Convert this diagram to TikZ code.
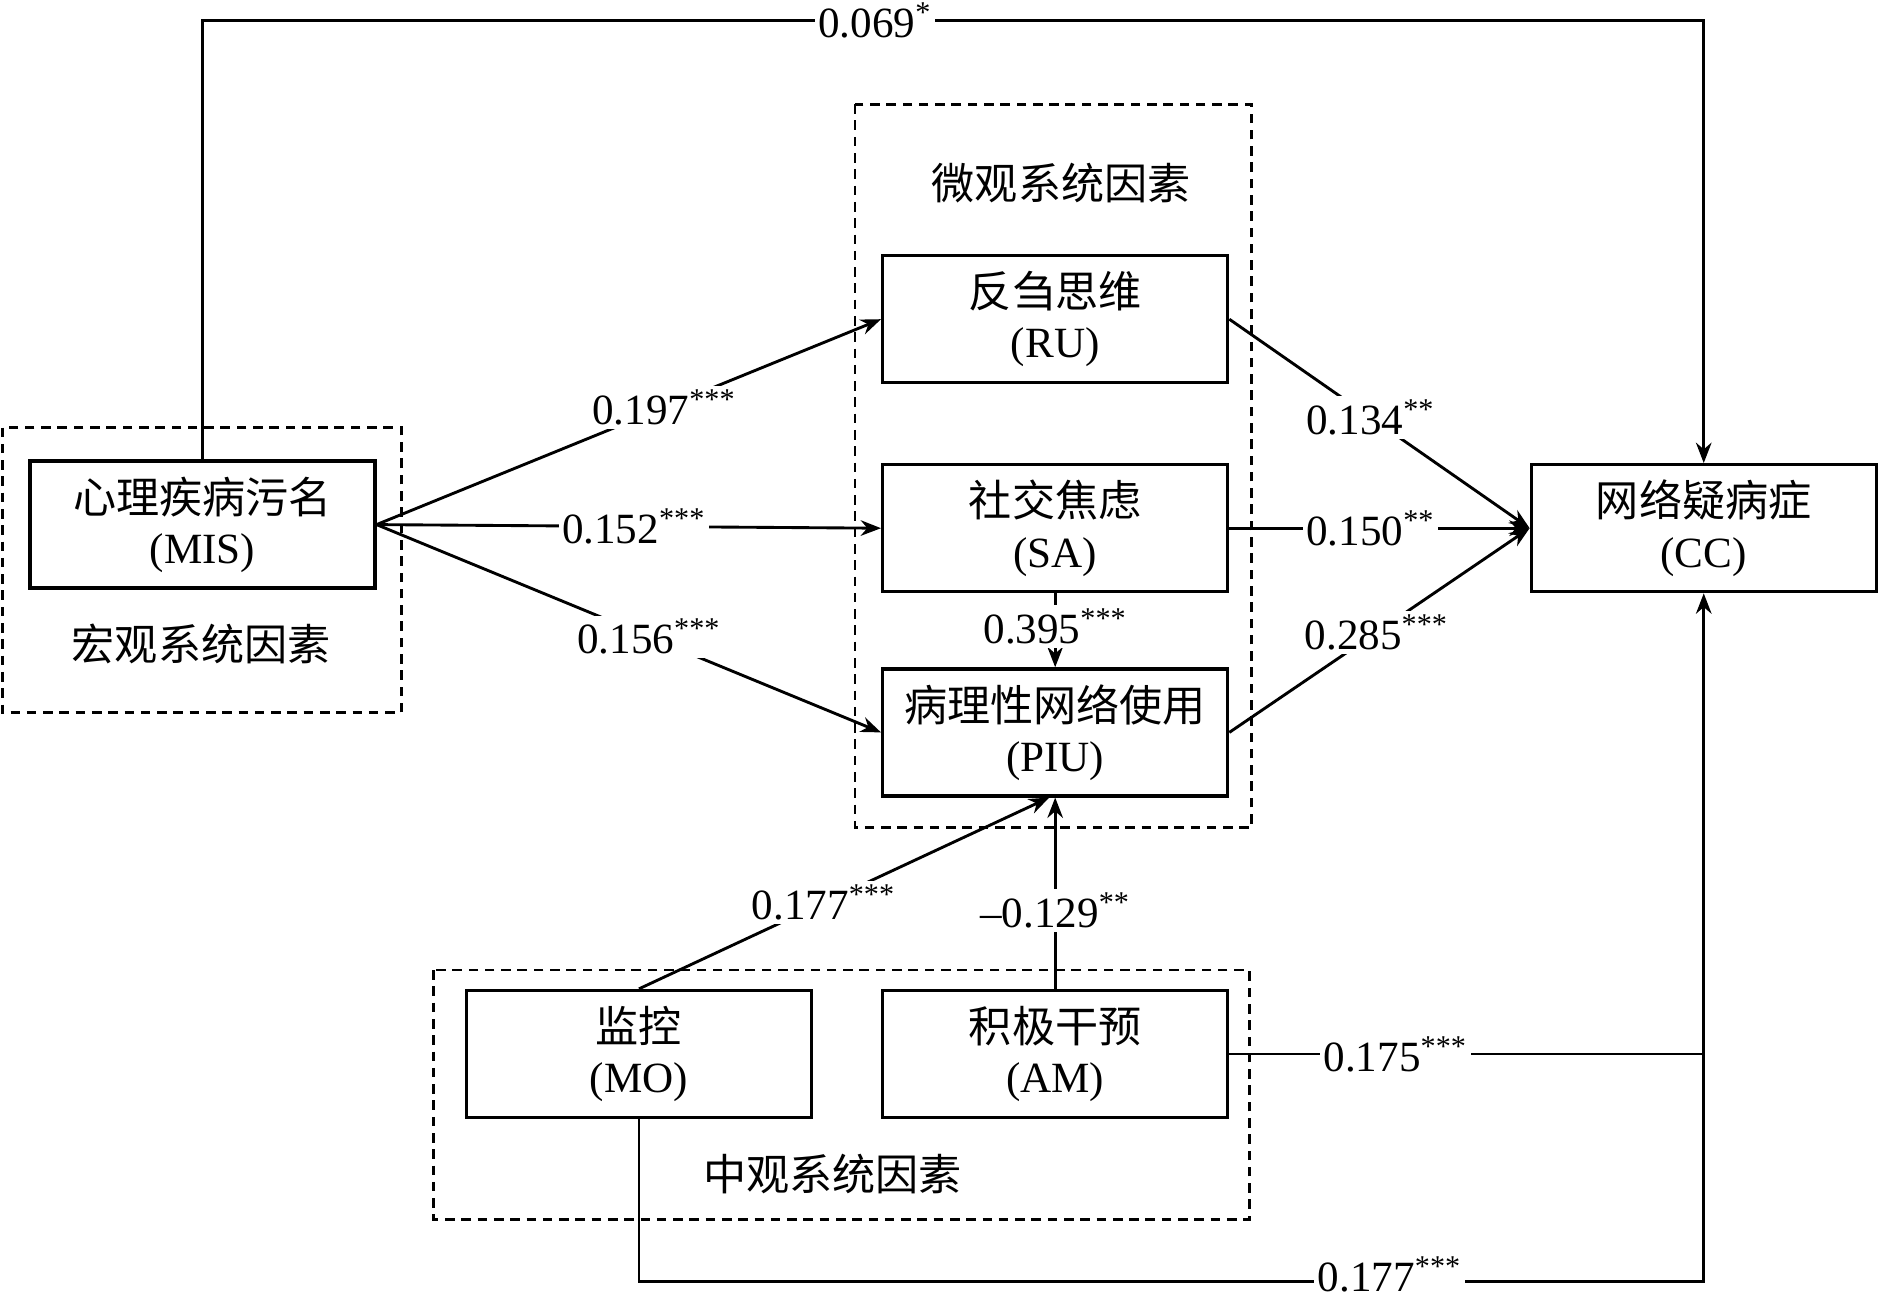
\documentclass[tikz,border=0pt]{standalone}
\usepackage{fontspec}
\setmainfont{Liberation Serif}
\newfontfamily\cjk{Noto Sans CJK SC}
\usetikzlibrary{arrows.meta}
\begin{document}
\begin{tikzpicture}[x=0.5pt,y=-0.5pt,
 font=\fontsize{18}{21}\selectfont,
 box/.style={draw, line width=1.4pt, minimum width=144pt, minimum height=53pt, align=center, inner sep=0pt},
 grp/.style={draw, dash pattern=on 4pt off 2.8pt, line width=1.1pt},
 arr/.style={line width=1.2pt, -{Stealth[length=8.5pt,width=6.5pt]}},
 ln/.style={line width=1.2pt},
 lbl/.style={fill=white, inner sep=1.5pt},
]
\useasboundingbox (0,0) rectangle (1568,1088);

% group boxes
\draw[grp] (2,357) rectangle (335,595);
\draw[grp] (714,87) rectangle (1045,691);
\draw[grp] (362,810) rectangle (1043,1018);
\node (gmacro) at (168,538) {\cjk 宏观系统因素};
\node (gmicro) at (886,153) {\cjk 微观系统因素};
\node (gmeso) at (695,980) {\cjk 中观系统因素};

% boxes
\node[box] (MIS) at (169,438) {{\cjk 心理疾病污名}\\(MIS)};
\node[box] (RU) at (881,266.5) {{\cjk 反刍思维}\\(RU)};
\node[box] (SA) at (881,441) {{\cjk 社交焦虑}\\(SA)};
\node[box] (PIU) at (881,611.5) {{\cjk 病理性网络使用}\\(PIU)};
\node[box] (CC) at (1422.5,441) {{\cjk 网络疑病症}\\(CC)};
\node[box] (MO) at (533.5,880) {{\cjk 监控}\\(MO)};
\node[box] (AM) at (881,880) {{\cjk 积极干预}\\(AM)};

\coordinate (top) at (0,17);
\coordinate (bot) at (0,1070);

% connectors
\draw[arr] (MIS.north) -- (MIS.north |- top) -- node[lbl,pos=0.448]{0.069\textsuperscript{*}} (CC.north |- top) -- (CC.north);
\draw[arr] (MIS.east) -- node[lbl,pos=0.57]{0.197\textsuperscript{***}} (RU.west);
\draw[arr] (MIS.east) -- node[lbl,pos=0.51]{0.152\textsuperscript{***}} (SA.west);
\draw[arr] (MIS.east) -- node[lbl,pos=0.54]{0.156\textsuperscript{***}} (PIU.west);
\draw[arr] (RU.east) -- node[lbl,pos=0.47]{0.134\textsuperscript{**}} (CC.west);
\draw[arr] (SA.east) -- node[lbl,pos=0.47]{0.150\textsuperscript{**}} (CC.west);
\draw[arr] (PIU.east) -- node[lbl,pos=0.49]{0.285\textsuperscript{***}} (CC.west);
\draw[arr] (SA.south) -- node[lbl,pos=0.45]{0.395\textsuperscript{***}} (PIU.north);
\draw[arr] (MO.north) -- node[lbl,pos=0.45]{0.177\textsuperscript{***}} ([xshift=-2.5pt]PIU.south);
\draw[arr] (AM.north) -- node[lbl,pos=0.41]{\textendash0.129\textsuperscript{**}} (PIU.south);
\draw[ln] (AM.east) -- node[lbl,pos=0.35]{0.175\textsuperscript{***}} (AM.east -| CC.south);
\draw[arr] (MO.south) -- (MO.south |- bot) -- node[lbl,pos=0.705,yshift=3pt,inner ysep=0.5pt]{0.177\textsuperscript{***}} (CC.south |- bot) -- (CC.south);
\end{tikzpicture}
\end{document}
